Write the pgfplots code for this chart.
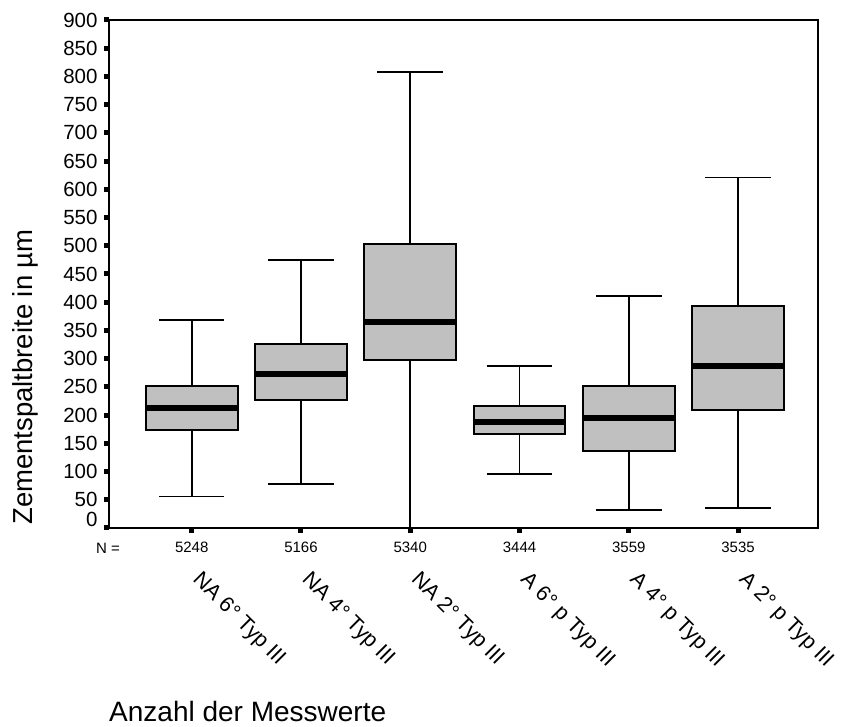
\documentclass[border=0pt]{standalone}
\usepackage{fontspec}
\setmainfont{Liberation Sans}
\usepackage{pgfplots}
\pgfplotsset{compat=1.18}
\definecolor{boxgray}{RGB}{192,192,192}
\pgfplotsset{
  wh/.style={black, line width=1.7pt, mark=none},
  bx/.style={draw=black, fill=boxgray, line width=2pt, mark=none},
  md/.style={black, line width=6pt, mark=none},
}
\begin{document}
\begin{tikzpicture}
\useasboundingbox (0pt,0pt) rectangle (845pt,727pt);
\begin{axis}[
  at={(109pt,199pt)}, anchor=south west,
  scale only axis, width=709pt, height=508pt,
  xmin=-0.757, xmax=5.732, ymin=0, ymax=900,
  clip=false,
  unbounded coords=jump,
  axis line style={line width=2pt},
  tick align=outside, major tick length=5pt,
  every tick/.style={line width=5pt, black},
  xtick pos=bottom, ytick pos=left,
  ytick={50,100,...,900},
  extra y ticks={0},
  extra y tick style={yticklabel style={yshift=9pt}},
  /pgf/number format/assume math mode=true,
  yticklabel style={font=\fontsize{20.5}{20.5}\selectfont, xshift=-3pt},
  xtick={0,1,2,3,4,5},
  xticklabels={5248,5166,5340,3444,3559,3535},
  xticklabel style={font=\fontsize{15}{15}\selectfont, yshift=-5pt},
  extra x ticks={0,1,2,3,4,5},
  extra x tick labels={NA 6° Typ III, NA 4° Typ III, NA 2° Typ III, A 6° p Typ III, A 4° p Typ III, A 2° p Typ III},
  extra x tick style={xticklabel style={font=\fontsize{21.5}{21.5}\selectfont, yshift=-27pt, xshift=11pt, rotate=-45, anchor=north west}},
]
% whiskers (caps and stems)
\addplot[wh] coordinates {(-0.3,369) (0.3,369) (0,inf) (0,369) (0,252) (0,inf) (0,174) (0,56) (0,inf) (-0.3,56) (0.3,56)};
\addplot[wh] coordinates {(0.7,475) (1.3,475) (1,inf) (1,475) (1,326) (1,inf) (1,227) (1,78) (1,inf) (0.7,78) (1.3,78)};
\addplot[wh] coordinates {(1.7,808) (2.3,808) (2,inf) (2,808) (2,503) (2,inf) (2,298) (2,0) (2,inf) (1.7,0) (2.3,0)};
\addplot[wh] coordinates {(2.7,287) (3.3,287) (3,inf) (3,287) (3,216) (3,inf) (3,166) (3,96) (3,inf) (2.7,96) (3.3,96)};
\addplot[wh] coordinates {(3.7,411) (4.3,411) (4,inf) (4,411) (4,252) (4,inf) (4,137) (4,32) (4,inf) (3.7,32) (4.3,32)};
\addplot[wh] coordinates {(4.7,621) (5.3,621) (5,inf) (5,621) (5,394) (5,inf) (5,209) (5,35) (5,inf) (4.7,35) (5.3,35)};
% boxes (lower quartile to upper quartile)
\addplot[bx] coordinates {(-0.42,174) (0.42,174) (0.42,252) (-0.42,252)} -- cycle;
\addplot[bx] coordinates {(0.58,227) (1.42,227) (1.42,326) (0.58,326)} -- cycle;
\addplot[bx] coordinates {(1.58,298) (2.42,298) (2.42,503) (1.58,503)} -- cycle;
\addplot[bx] coordinates {(2.58,166) (3.42,166) (3.42,216) (2.58,216)} -- cycle;
\addplot[bx] coordinates {(3.58,137) (4.42,137) (4.42,252) (3.58,252)} -- cycle;
\addplot[bx] coordinates {(4.58,209) (5.42,209) (5.42,394) (4.58,394)} -- cycle;
% medians
\addplot[md] coordinates {(-0.42,212) (0.42,212)};
\addplot[md] coordinates {(0.58,273) (1.42,273)};
\addplot[md] coordinates {(1.58,365) (2.42,365)};
\addplot[md] coordinates {(2.58,187) (3.42,187)};
\addplot[md] coordinates {(3.58,195) (4.42,195)};
\addplot[md] coordinates {(4.58,287) (5.42,287)};
\node[font=\fontsize{15}{15}\selectfont] at (rel axis cs:0,0) [yshift=-20pt, xshift=-1pt] {N =};
\end{axis}
\node[rotate=90, font=\fontsize{27.5}{27.5}\selectfont] at (25pt,350pt) {Zementspaltbreite in µm};
\node[anchor=base west, font=\fontsize{28}{28}\selectfont, inner sep=0pt] at (109pt,5pt) {Anzahl der Messwerte};
\end{tikzpicture}
\end{document}
